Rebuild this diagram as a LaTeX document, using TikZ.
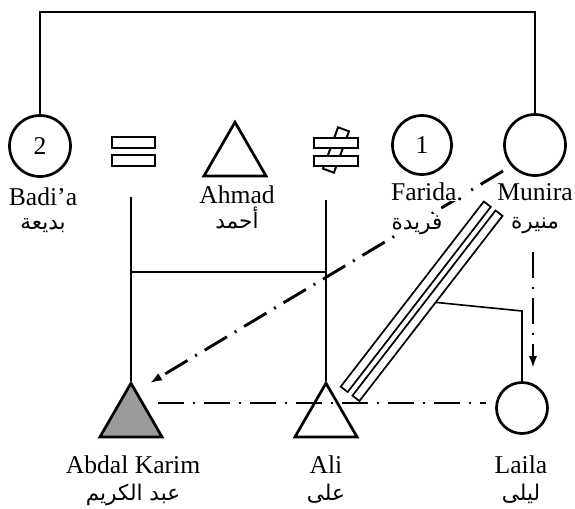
\documentclass[tikz,border=0pt]{standalone}
\usepackage{fontspec}
\setmainfont{Liberation Serif}
\newfontfamily\arabicfont[Script=Arabic]{DejaVu Sans}
\TeXXeTstate=1
\usetikzlibrary{arrows.meta,shapes.geometric}
\definecolor{trigray}{RGB}{155,155,158}
\pgfdeclarelayer{bg}
\pgfsetlayers{bg,main}
\begin{document}
\begin{tikzpicture}[x=0.5pt,y=-0.5pt,
  lat/.style={font=\fontsize{12.8}{14}\selectfont, inner sep=0.5pt, fill=white, anchor=base},
  ar/.style={font=\arabicfont\fontsize{10.8}{12}\selectfont, inner sep=0.5pt, fill=white, anchor=base},
  fem/.style={circle, draw, line width=1.35pt, inner sep=0pt, font=\fontsize{12.8}{14}\selectfont},
  male/.style={regular polygon, regular polygon sides=3, draw, line width=1.35pt, minimum size=35.8pt, inner sep=0pt},
  thinln/.style={line width=0.8pt},
  dd/.style={line width=1.45pt, dash pattern=on 13pt off 4.5pt on 1pt off 4.5pt},
  tip/.style={-{Latex[length=6pt,width=4.2pt]}},
  bar/.style={draw, line width=1pt, fill=white, minimum width=21.8pt, minimum height=5.2pt, inner sep=0pt},
  slant/.style={draw, line width=1pt, fill=white, minimum width=5.8pt, minimum height=22pt, inner sep=0pt},
  dbar/.style={draw, line width=0.85pt, fill=white, minimum width=117pt, minimum height=4.4pt, inner sep=0pt, rotate=52.3},
]
\useasboundingbox (0,0) rectangle (575,509);

% individuals
\node[fem, minimum size=30.5pt] (badia) at (40,146) {2};
\node[fem, minimum size=29.5pt] (farida) at (422,145) {1};
\node[fem, minimum size=30.5pt] (munira) at (535,145) {};
\node[fem, minimum size=25.5pt] (laila) at (522,408) {};
\node[male] (ahmad) at (235,158) {};
\node[male, fill=trigray] (abdal) at (131,419) {};
\node[male] (ali) at (326,419) {};

% equal and not-equal signs
\node[bar] (eqa) at (133.5,142.5) {};
\node[bar] (eqb) at (133.5,160.5) {};
\node[slant, rotate=-20] (nex) at (336,150) {};
\node[bar] (nea) at (336,143) {};
\node[bar] (neb) at (336,161) {};

% double bar
\node[dbar] (dba) at (415.75,296.75) {};
\node[dbar] (dbb) at (427.5,305.75) {};

% labels
\node[lat] (badiaL) at (43,205) {Badi’a};
\node[ar] (badiaA) at (43,229) {\beginR بديعة\endR};
\node[lat] (ahmadL) at (237,203) {Ahmad};
\node[ar] (ahmadA) at (237,228) {\beginR أحمد\endR};
\node[lat] (faridaL) at (427,200) {Farida.};
\node[ar] (faridaA) at (417,229) {\beginR فريدة\endR};
\node[lat] (muniraL) at (535,200) {Munira};
\node[ar] (muniraA) at (535,228) {\beginR منيرة\endR};
\node[lat] (abdalL) at (133,473) {Abdal Karim};
\node[ar] (abdalA) at (133,500) {\beginR عبد الكريم\endR};
\node[lat] (aliL) at (326,473) {Ali};
\node[ar] (aliA) at (326,500) {\beginR على\endR};
\node[lat] (lailaL) at (521,473) {Laila};
\node[ar] (lailaA) at (521,500) {\beginR ليلى\endR};

% free ends
\coordinate (topy) at (0,12);
\coordinate (eqdrop) at (131,197);
\coordinate (nedrop) at (326,200);
\coordinate (hy) at (0,272);
\coordinate (hda) at (158,403);
\coordinate (hdb) at (486,403);
\coordinate (dgs) at (503,171);
\coordinate (dgt) at (150,383);
\coordinate (vds) at (533,252);
\coordinate (vdt) at (533,368);
\coordinate (jna) at (432,302);
\coordinate (jnb) at (522,311);

\begin{pgfonlayer}{bg}
\draw[thinln] (badia.north) -- (badia.north |- topy) -| (munira.north);
\draw[thinln] (eqdrop) -- (abdal.corner 1);
\draw[thinln] (nedrop) -- (ali.corner 1);
\draw[thinln] (eqdrop |- hy) -- (nedrop |- hy);
\draw[thinln] (jna) -- (jnb) -- (laila.north);
\draw[dd] (hda) -- (hdb);
\draw[dd, tip] (dgs) -- (dgt);
\draw[dd, tip] (vds) -- (vdt);
\end{pgfonlayer}
\end{tikzpicture}
\end{document}
